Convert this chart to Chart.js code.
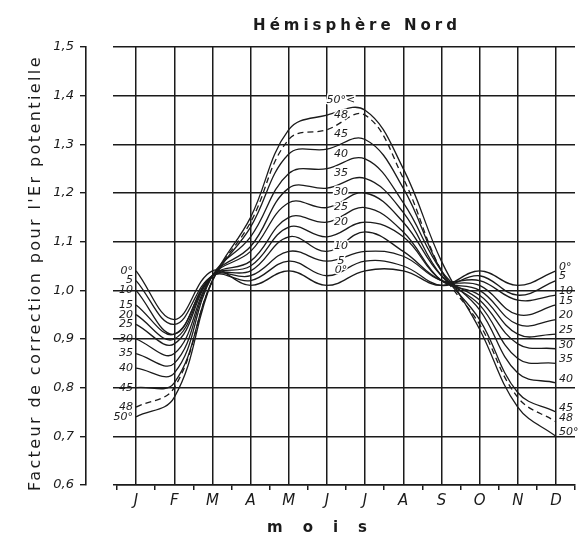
<!DOCTYPE html>
<html lang="fr">
<head>
<meta charset="utf-8">
<title>Hémisphère Nord</title>
<script src="https://cdn.jsdelivr.net/npm/chart.js@4"></script>
<style>
  body { margin: 0; background: #fff; }
  canvas { display: block; }
</style>
</head>
<body>
<canvas id="graphique" width="580" height="534"></canvas>
<script>
// mois de l'année (J F M A M J J A S O N D)
const mois = ['J', 'F', 'M', 'A', 'M', 'J', 'J', 'A', 'S', 'O', 'N', 'D'];

// facteur de correction, un tableau par latitude
const lat0  = [1.04, 0.94, 1.04, 1.01, 1.04, 1.01, 1.04, 1.04, 1.01, 1.04, 1.01, 1.04];
const lat5  = [1.02, 0.93, 1.03, 1.02, 1.06, 1.03, 1.06, 1.05, 1.01, 1.03, 0.99, 1.02];
const lat10 = [1.00, 0.91, 1.03, 1.03, 1.08, 1.06, 1.08, 1.07, 1.02, 1.02, 0.98, 0.99];
const lat15 = [0.97, 0.91, 1.03, 1.04, 1.11, 1.08, 1.12, 1.08, 1.02, 1.01, 0.95, 0.97];
const lat20 = [0.95, 0.90, 1.03, 1.05, 1.13, 1.11, 1.14, 1.11, 1.02, 1.00, 0.93, 0.94];
const lat25 = [0.93, 0.89, 1.03, 1.06, 1.15, 1.14, 1.17, 1.12, 1.02, 0.99, 0.91, 0.91];
const lat30 = [0.90, 0.87, 1.03, 1.08, 1.18, 1.17, 1.20, 1.14, 1.03, 0.98, 0.89, 0.88];
const lat35 = [0.87, 0.85, 1.03, 1.09, 1.21, 1.21, 1.23, 1.16, 1.03, 0.97, 0.86, 0.85];
const lat40 = [0.84, 0.83, 1.03, 1.11, 1.24, 1.25, 1.27, 1.18, 1.04, 0.96, 0.83, 0.81];
const lat45 = [0.80, 0.81, 1.02, 1.13, 1.28, 1.29, 1.31, 1.21, 1.04, 0.94, 0.79, 0.75];
const lat48 = [0.76, 0.80, 1.02, 1.14, 1.31, 1.33, 1.36, 1.23, 1.04, 0.93, 0.78, 0.73];
const lat50 = [0.74, 0.78, 1.02, 1.15, 1.33, 1.36, 1.37, 1.25, 1.06, 0.92, 0.76, 0.70];

const series = [lat0, lat5, lat10, lat15, lat20, lat25, lat30, lat35, lat40, lat45, lat48, lat50];

// étiquettes des courbes (gauche, droite, milieu)
const etiquettesGauche = ['0°', '5', '10', '15', '20', '25', '30', '35', '40', '45', '48', '50°'];
const etiquettesDroite = ['0°', '5', '10', '15', '20', '25', '30', '35', '40', '45', '48', '50°'];
const etiquettesMilieu = ['0°', '5', '10', '', '20', '25', '30', '35', '40', '45', '48', '50°<'];

const encre = '#1b1b1b';
const police = 'DejaVu Sans';

const datasets = series.map((valeurs, i) => ({
    label: etiquettesDroite[i],
    data: valeurs.map((v, m) => ({ x: m, y: v })),
    borderColor: encre,
    borderWidth: 1.3,
    borderDash: i === 10 ? [6, 4] : [],
    pointRadius: 0,
    tension: 0.4,
    fill: false
}));

// petites étiquettes de latitude posées sur les courbes
const etiquettes = {
    id: 'etiquettes',
    afterDatasetsDraw(chart) {
        const ctx = chart.ctx;
        ctx.save();
        ctx.font = 'italic 11px "' + police + '"';
        ctx.fillStyle = encre;
        ctx.textBaseline = 'middle';
        chart.data.datasets.forEach((ds, i) => {
            const pts = chart.getDatasetMeta(i).data;
            const debut = pts[0];
            const fin = pts[pts.length - 1];
            const juin = pts[5];
            ctx.textAlign = 'right';
            ctx.fillText(etiquettesGauche[i], debut.x - 3, debut.y);
            ctx.textAlign = 'left';
            ctx.fillText(etiquettesDroite[i], fin.x + 3, fin.y - 4);
            if (etiquettesMilieu[i]) {
                ctx.textAlign = 'center';
                ctx.strokeStyle = '#fff';
                ctx.lineWidth = 3;
                ctx.strokeText(etiquettesMilieu[i], juin.x + 14, juin.y - 15);
                ctx.fillText(etiquettesMilieu[i], juin.x + 14, juin.y - 15);
            }
        });
        ctx.restore();
    }
};

const ctx = document.getElementById('graphique').getContext('2d');

const chart = new Chart(ctx, {
    type: 'line',
    data: { datasets: datasets },
    options: {
        responsive: false,
        animation: false,
        layout: { padding: { left: 0, right: 5, top: 0, bottom: 0 } },
        plugins: {
            legend: { display: false },
            tooltip: { enabled: false },
            title: {
                display: true,
                text: 'Hémisphère Nord',
                fullSize: false,
                color: encre,
                font: { family: police, size: 15, weight: 'bold' },
                padding: { top: 17, bottom: 12 }
            }
        },
        scales: {
            x: {
                type: 'linear',
                min: -0.5,
                max: 11.5,
                border: { display: true, color: encre, width: 1.6 },
                grid: {
                    color: c => Number.isInteger(c.tick.value) ? encre : 'rgba(0,0,0,0)',
                    tickColor: c => Number.isInteger(c.tick.value) ? 'rgba(0,0,0,0)' : encre,
                    lineWidth: 1.5,
                    drawTicks: true,
                    tickLength: 5
                },
                ticks: {
                    stepSize: 0.5,
                    autoSkip: false,
                    maxRotation: 0,
                    minRotation: 0,
                    padding: 2,
                    color: encre,
                    font: { family: police, size: 15, style: 'italic' },
                    callback: v => Number.isInteger(v) ? mois[v] : ''
                },
                title: {
                    display: true,
                    text: 'mois',
                    color: encre,
                    font: { family: police, size: 15, weight: 'bold', lineHeight: 0.8 },
                    padding: 0
                },
                afterFit: s => { s.height = 49; }
            },
            y: {
                position: 'left',
                weight: 0,
                min: 0.6,
                max: 1.5,
                border: { display: false },
                grid: { color: encre, lineWidth: 1.5, drawTicks: true, tickLength: 4 },
                ticks: { display: false, stepSize: 0.1 },
                afterFit: s => { s.width = 31; }
            },
            yEchelle: {
                position: 'left',
                weight: 1,
                min: 0.6,
                max: 1.5,
                border: { display: true, color: encre, width: 1.6 },
                grid: { drawOnChartArea: false, color: encre, lineWidth: 1.4, drawTicks: true, tickLength: 6 },
                ticks: {
                    stepSize: 0.1,
                    padding: 6,
                    color: encre,
                    font: { family: police, size: 13, style: 'italic' },
                    callback: v => v.toFixed(1).replace('.', ',')
                },
                title: {
                    display: true,
                    text: "Facteur de correction pour l'Er potentielle",
                    color: encre,
                    font: { family: police, size: 16 },
                    padding: { top: 26, bottom: 0 }
                },
                afterFit: s => { s.width = 86; }
            }
        }
    },
    plugins: [etiquettes]
});

// espacement des lettres des titres, comme sur la figure
function espacer(objet, methode, espace, dx, dy) {
    const original = objet[methode];
    objet[methode] = function () {
        const c = this.ctx;
        c.save();
        c.letterSpacing = espace;
        c.translate(dx, dy);
        original.apply(this, arguments);
        c.restore();
    };
}
espacer(chart.titleBlock, 'draw', '4px', 11, 0);
espacer(chart.scales.x, 'drawTitle', '20px', -19, 0);
espacer(chart.scales.yEchelle, 'drawTitle', '2.4px', 0, 7);
chart.draw();
</script>
</body>
</html>
